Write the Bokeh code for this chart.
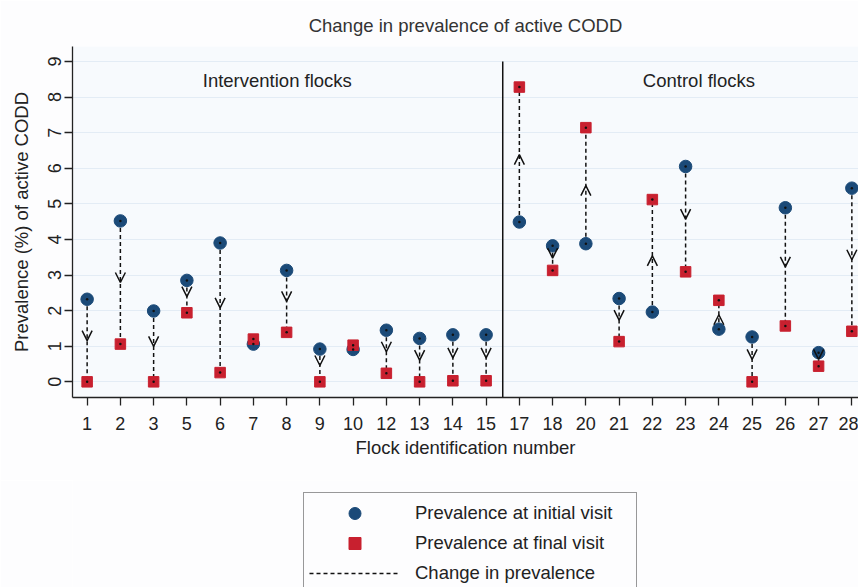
from bokeh.plotting import figure
from bokeh.layouts import column
from bokeh.models import (ColumnDataSource, FixedTicker, Arrow, OpenHead, Legend,
                          LegendItem, Range1d)
from bokeh.embed import file_html
from bokeh.resources import INLINE
from bokeh.core.properties import value

# ---------------- data ----------------
flocks = ["1", "2", "3", "5", "6", "7", "8", "9", "10", "12", "13", "14", "15",
          "17", "18", "20", "21", "22", "23", "24", "25", "26", "27", "28"]
initial = [2.32, 4.52, 1.99, 2.85, 3.90, 1.06, 3.13, 0.92, 0.91, 1.45, 1.22, 1.32, 1.32,
           4.49, 3.82, 3.88, 2.34, 1.96, 6.05, 1.48, 1.26, 4.89, 0.82, 5.44]
final = [0.0, 1.06, 0.0, 1.94, 0.26, 1.20, 1.39, 0.0, 1.03, 0.24, 0.0, 0.03, 0.03,
         8.28, 3.13, 7.14, 1.13, 5.12, 3.09, 2.29, 0.0, 1.57, 0.44, 1.42]
group_labels = ["Intervention flocks", "Control flocks"]
legend_labels = ["Prevalence at initial visit", "Prevalence at final visit",
                 "Change in prevalence"]
y_ticks = [0, 1, 2, 3, 4, 5, 6, 7, 8, 9]

FONT = "Liberation Sans"
FS = "18.5px"
TXT = "#222222"
NAVY = "#1b4a78"
RED = "#c8202f"
PAGE = "#fdfdfe"

xs = list(range(len(flocks)))
mid = [(a + b) / 2 for a, b in zip(initial, final)]
src = ColumnDataSource(dict(x=xs, y0=initial, y1=final, ym=mid))
arr_idx = [i for i in xs if abs(final[i] - initial[i]) > 0.3]
arr_src = ColumnDataSource(dict(x=[xs[i] for i in arr_idx],
                                y0=[initial[i] for i in arr_idx],
                                ym=[mid[i] for i in arr_idx]))

p = figure(width=858, height=480,
           x_range=Range1d(-0.44, 23.2), y_range=Range1d(-0.44, 9.42),
           output_backend="svg", toolbar_location=None,
           min_border_left=72, min_border_right=0, min_border_top=46, min_border_bottom=83,
           title="Change in prevalence of active CODD")

p.background_fill_color = "#f7fafd"
p.border_fill_color = PAGE
p.outline_line_color = None

p.title.align = "center"
p.title.text_font = FONT
p.title.text_font_size = FS
p.title.text_font_style = "normal"
p.title.text_color = "#333333"
p.title.standoff = 22

# dashed change segments
p.segment(x0="x", y0="y0", x1="x", y1="y1", source=src,
          line_color="#111111", line_width=1.5, line_dash="4 3")

# arrowheads at midpoints
p.add_layout(Arrow(end=OpenHead(size=10, line_width=1.5, line_color="#111111"),
                   x_start="x", y_start="y0", x_end="x", y_end="ym",
                   source=arr_src, line_alpha=0))

p.scatter(x="x", y="y0", source=src, marker="circle", size=12.5,
          fill_color=NAVY, line_color=NAVY)
p.scatter(x="x", y="y1", source=src, marker="square", size=10.5,
          fill_color=RED, line_color=RED)
p.scatter(x="x", y="y0", source=src, marker="circle", size=2.5,
          fill_color="#111111", line_color=None)
p.scatter(x="x", y="y1", source=src, marker="circle", size=2.5,
          fill_color="#111111", line_color=None)

# separator between groups
p.segment(x0=[12.5], y0=[-0.44], x1=[12.5], y1=[9.0], line_color="#111111", line_width=1.5)

# group labels
p.text(x=[5.72, 18.4], y=[8.47, 8.47], text=group_labels,
       text_align="center", text_baseline="middle",
       text_font=value(FONT), text_font_size=FS, text_color=TXT)

# axes
p.xaxis.ticker = FixedTicker(ticks=xs)
p.xaxis.major_label_overrides = {i: f for i, f in zip(xs, flocks)}
p.yaxis.ticker = FixedTicker(ticks=y_ticks)
p.yaxis.major_label_orientation = "vertical"
p.xaxis.axis_label = "Flock identification number"
p.yaxis.axis_label = "Prevalence (%) of active CODD"
for ax in (p.xaxis, p.yaxis):
    ax.axis_line_color = "#222222"
    ax.axis_line_width = 1.3
    ax.major_tick_line_color = "#222222"
    ax.major_tick_line_width = 1.3
    ax.major_tick_out = 8
    ax.major_tick_in = 0
    ax.minor_tick_line_color = None
    ax.major_label_text_font = FONT
    ax.major_label_text_font_size = "18px"
    ax.major_label_text_color = TXT
    ax.axis_label_text_font = FONT
    ax.axis_label_text_font_size = FS
    ax.axis_label_text_font_style = "normal"
    ax.axis_label_text_color = TXT
p.xaxis.major_label_standoff = 11
p.xaxis.axis_label_standoff = 4
p.yaxis.major_label_standoff = 3
p.yaxis.axis_label_standoff = 14

p.xgrid.visible = False
p.ygrid.ticker = FixedTicker(ticks=y_ticks)
p.ygrid.grid_line_color = "#e3ecf5"
p.ygrid.grid_line_width = 1

# ---------------- legend panel ----------------
# ranges chosen so the legend's glyph renderers draw nothing inside this panel
lf = figure(width=858, height=107, x_range=Range1d(-1000, -999), y_range=Range1d(-1000, -999),
            output_backend="svg", toolbar_location=None,
            x_axis_type=None, y_axis_type=None,
            min_border_left=0, min_border_right=0, min_border_top=0, min_border_bottom=0)
lf.background_fill_color = PAGE
lf.border_fill_color = PAGE
lf.outline_line_color = None
lf.xgrid.visible = False
lf.ygrid.visible = False

r_c = lf.scatter(x="x", y="y0", source=src, marker="circle", size=12,
                 fill_color=NAVY, line_color=NAVY)
r_s = lf.scatter(x="x", y="y1", source=src, marker="square", size=10,
                 fill_color=RED, line_color=RED)
r_l = lf.segment(x0="x", y0="y0", x1="x", y1="y1", source=src,
                 line_color="#111111", line_width=1.5, line_dash="4 3")

legend = Legend(items=[LegendItem(label=legend_labels[0], renderers=[r_c]),
                       LegendItem(label=legend_labels[1], renderers=[r_s]),
                       LegendItem(label=legend_labels[2], renderers=[r_l])],
                location=(231, -7))
legend.glyph_width = 91
legend.glyph_height = 30
legend.label_height = 30
legend.spacing = 0
legend.padding = 5
legend.label_standoff = 15
legend.label_width = 216
legend.border_line_color = "#333333"
legend.border_line_width = 1.5
legend.background_fill_color = PAGE
legend.background_fill_alpha = 1
legend.label_text_font = FONT
legend.label_text_font_size = FS
legend.label_text_color = TXT
lf.add_layout(legend)

layout = column(p, lf, spacing=0)
open("out.html", "w").write(file_html(layout, INLINE))
